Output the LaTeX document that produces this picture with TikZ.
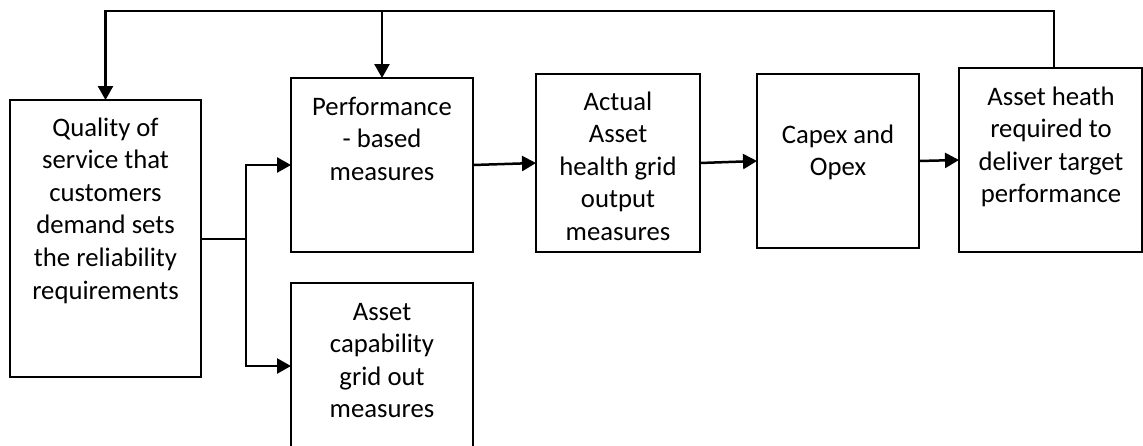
\documentclass[tikz,border=0pt]{standalone}
\usepackage{fontspec}
\setmainfont{Carlito}
\usetikzlibrary{arrows.meta}
\tikzset{
  box/.style={draw, line width=2pt, inner sep=0pt, outer sep=0pt},
  txt/.style={align=center, anchor=north, inner sep=0pt,
    font=\fontsize{26.7}{32.6}\selectfont},
  conn/.style={line width=2.5pt},
  arr/.style={conn, -{Triangle[length=14pt, width=15pt]}}
}
\begin{document}
\begin{tikzpicture}[x=1pt, y=-1pt]
\useasboundingbox (0,0) rectangle (1143,445);
\clip (0,0) rectangle (1143,445);

% boxes
\node[box, minimum width=191pt, minimum height=277pt] (q)    at (105.5,238.5) {};
\node[box, minimum width=182pt, minimum height=174pt] (p)    at (382,165) {};
\node[box, minimum width=182pt, minimum height=200pt] (a)    at (382,383) {};
\node[box, minimum width=164pt, minimum height=178pt] (act)  at (618,163) {};
\node[box, minimum width=162pt, minimum height=174pt] (cap)  at (838,161) {};
\node[box, minimum width=183pt, minimum height=184pt] (heath) at (1050.5,160) {};

% texts
\node[txt] (tq) at (105.5,113) {\strut Quality of\\service that\\customers\\demand sets\\the reliability\\requirements};
\node[txt] (tp) at (382,92) {\strut Performance\\- based\\measures};
\node[txt] (tact) at (618,87) {\strut Actual\\Asset\\health grid\\output\\measures};
\node[txt] (tcap) at (838,120) {\strut Capex and\\Opex};
\node[txt] (th) at (1051,82) {\strut Asset heath\\required to\\deliver target\\performance};
\node[txt] (ta) at (382,297) {\strut Asset\\capability\\grid out\\measures};

% feedback loop over the top
\coordinate (top) at (1054,11);
\coordinate (br) at (246,239);
\draw[arr] (heath.north -| top) -- (top) -| (q.north);
\draw[arr] (p.north |- top) -- (p.north);

% branch from the first box
\draw[conn] (q.east |- br) -- (br);
\draw[arr] (br) |- (p.west);
\draw[arr] (br) |- (a.west |- 0,366);

% main chain
\draw[arr] (p.east) -- (act.west);
\draw[arr] (act.east) -- (cap.west);
\draw[arr] (cap.east) -- (heath.west);
\end{tikzpicture}
\end{document}
